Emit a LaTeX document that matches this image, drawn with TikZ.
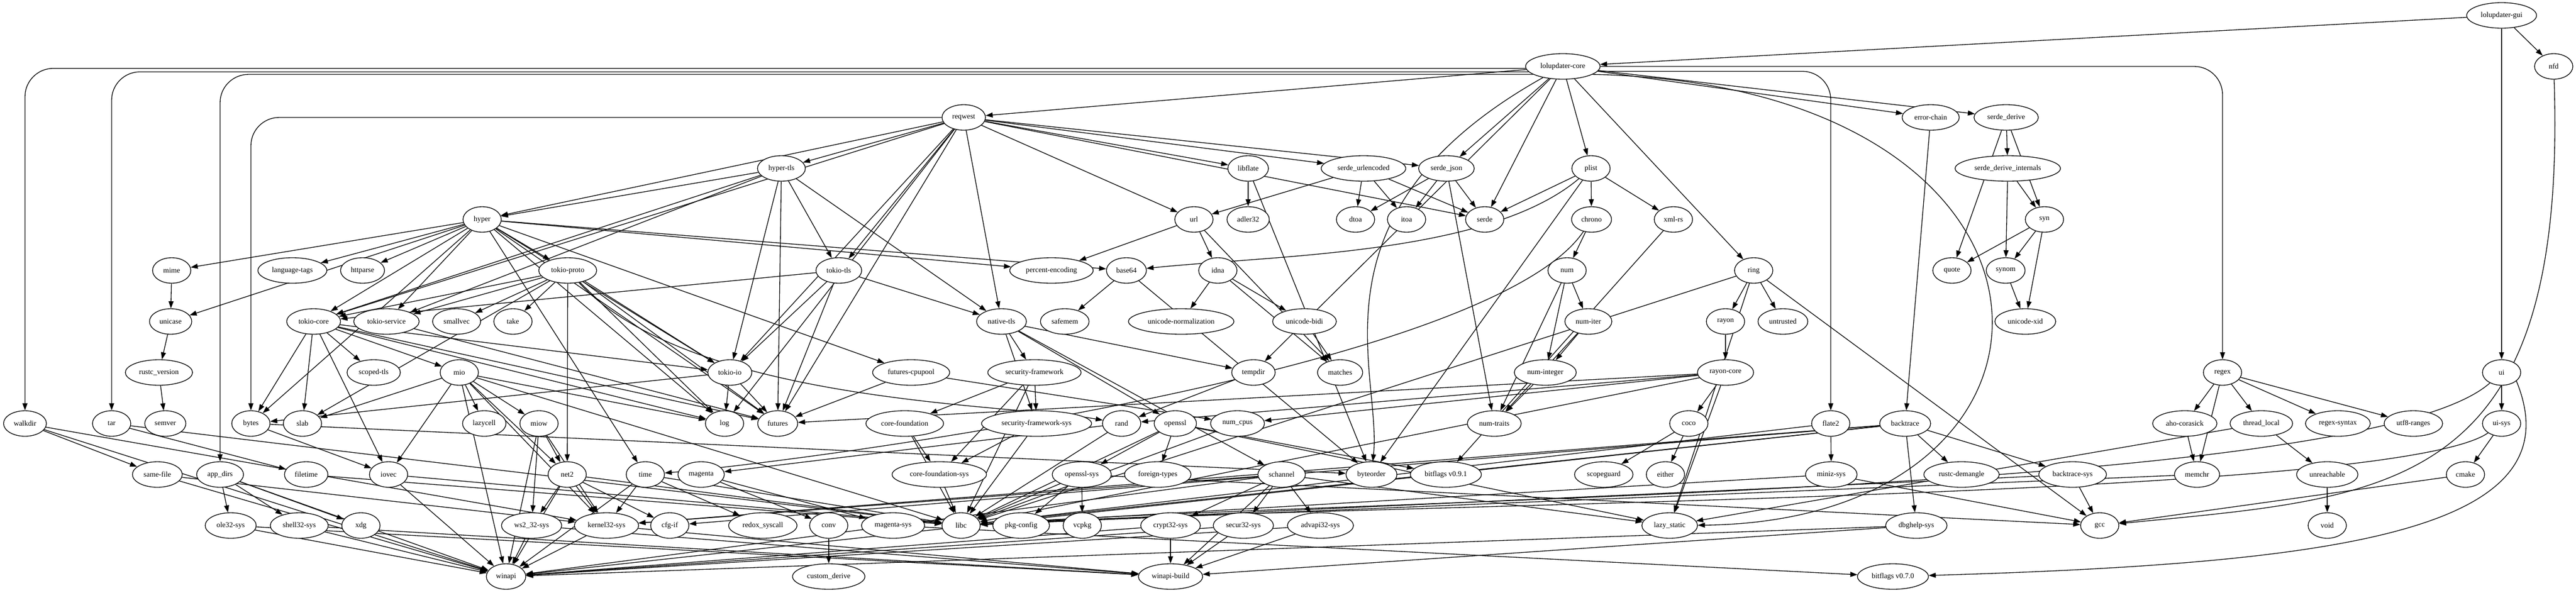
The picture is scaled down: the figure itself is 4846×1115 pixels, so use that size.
\documentclass[tikz,border=0pt]{standalone}
\usepackage{fontspec}
\setmainfont{Liberation Serif}
\usepackage{tikz}
\usetikzlibrary{shapes.geometric, arrows.meta, backgrounds}
\tikzstyle{crate} = [ellipse, draw=black, fill=white, line width=1pt, minimum width=54pt, minimum height=36pt, inner xsep=5.5pt, inner ysep=0pt, font=\fontsize{10.4}{12}\selectfont]
\tikzstyle{dep} = [line width=1pt, -{Triangle[length=10pt,width=7pt]}]
\begin{document}
\begin{tikzpicture}[x=0.75pt, y=-0.75pt]
		\useasboundingbox (0,0) rectangle (4846,1115);
		\node (LolGui) [crate] at (4706,29) {lolupdater-gui};
		\node (LolCore) [crate] at (2940,125) {lolupdater-core};
		\node (Nfd) [crate] at (4804,125) {nfd};
		\node (Reqwest) [crate] at (1813,221) {reqwest};
		\node (ErrorChain) [crate] at (3632,221) {error-chain};
		\node (SerdeDerive) [crate] at (3774,221) {serde\_derive};
		\node (HyperTls) [crate] at (1470,317) {hyper-tls};
		\node (Libflate) [crate] at (2348,317) {libflate};
		\node (SerdeUrl) [crate] at (2565,317) {serde\_urlencoded};
		\node (SerdeJson) [crate] at (2721,317) {serde\_json};
		\node (Plist) [crate] at (2993,317) {plist};
		\node (SerdeInternals) [crate] at (3777,317) {serde\_derive\_internals};
		\node (Hyper) [crate] at (907,413) {hyper};
		\node (Url) [crate] at (2246,413) {url};
		\node (Adler) [crate] at (2348,413) {adler32};
		\node (Dtoa) [crate] at (2550,413) {dtoa};
		\node (Itoa) [crate] at (2646,413) {itoa};
		\node (Serde) [crate] at (2793,413) {serde};
		\node (Chrono) [crate] at (2994,413) {chrono};
		\node (XmlRs) [crate] at (3148,413) {xml-rs};
		\node (Syn) [crate] at (3846,413) {syn};
		\node (Mime) [crate] at (323,509) {mime};
		\node (LangTags) [crate] at (550,509) {language-tags};
		\node (Httparse) [crate] at (682,509) {httparse};
		\node (TokioProto) [crate] at (1068,509) {tokio-proto};
		\node (TokioTls) [crate] at (1578,509) {tokio-tls};
		\node (PercentEnc) [crate] at (1978,509) {percent-encoding};
		\node (Base64) [crate] at (2119,509) {base64};
		\node (Idna) [crate] at (2291,509) {idna};
		\node (Num) [crate] at (2948,509) {num};
		\node (Ring) [crate] at (3299,509) {ring};
		\node (Quote) [crate] at (3672,509) {quote};
		\node (Synom) [crate] at (3773,509) {synom};
		\node (Unicase) [crate] at (321,605) {unicase};
		\node (TokioCore) [crate] at (590,605) {tokio-core};
		\node (TokioService) [crate] at (727,605) {tokio-service};
		\node (Smallvec) [crate] at (859,605) {smallvec};
		\node (Take) [crate] at (965,605) {take};
		\node (NativeTls) [crate] at (1884,605) {native-tls};
		\node (Safemem) [crate] at (2003,605) {safemem};
		\node (UniNorm) [crate] at (2222,605) {unicode-normalization};
		\node (UniBidi) [crate] at (2454,605) {unicode-bidi};
		\node (NumIter) [crate] at (2988,605) {num-iter};
		\node (Rayon) [crate] at (3246,605) {rayon};
		\node (Untrusted) [crate] at (3354,605) {untrusted};
		\node (UniXid) [crate] at (3810,605) {unicode-xid};
		\node (RustcVersion) [crate] at (299,701) {rustc\_version};
		\node (ScopedTls) [crate] at (703,701) {scoped-tls};
		\node (Mio) [crate] at (864,701) {mio};
		\node (TokioIo) [crate] at (1373,701) {tokio-io};
		\node (CpuPool) [crate] at (1714,701) {futures-cpupool};
		\node (SecFw) [crate] at (1946,701) {security-framework};
		\node (Tempdir) [crate] at (2358,701) {tempdir};
		\node (Matches) [crate] at (2521,701) {matches};
		\node (NumInteger) [crate] at (2907,701) {num-integer};
		\node (RayonCore) [crate] at (3246,701) {rayon-core};
		\node (Regex) [crate] at (4181,701) {regex};
		\node (Ui) [crate] at (4706,701) {ui};
		\node (Walkdir) [crate] at (47,797) {walkdir};
		\node (Tar) [crate] at (210,797) {tar};
		\node (Semver) [crate] at (311,797) {semver};
		\node (Bytes) [crate] at (472,797) {bytes};
		\node (Slab) [crate] at (569,797) {slab};
		\node (Lazycell) [crate] at (911,797) {lazycell};
		\node (Miow) [crate] at (1014,797) {miow};
		\node (Log) [crate] at (1363,797) {log};
		\node (Futures) [crate] at (1463,797) {futures};
		\node (CoreFound) [crate] at (1702,797) {core-foundation};
		\node (SecFwSys) [crate] at (1950,797) {security-framework-sys};
		\node (Rand) [crate] at (2110,797) {rand};
		\node (Openssl) [crate] at (2211,797) {openssl};
		\node (NumCpus) [crate] at (2328,797) {num\_cpus};
		\node (NumTraits) [crate] at (2811,797) {num-traits};
		\node (Coco) [crate] at (3177,797) {coco};
		\node (Flate) [crate] at (3444,797) {flate2};
		\node (Backtrace) [crate] at (3584,797) {backtrace};
		\node (AhoCorasick) [crate] at (4110,797) {aho-corasick};
		\node (ThreadLocal) [crate] at (4254,797) {thread\_local};
		\node (RegexSyntax) [crate] at (4398,797) {regex-syntax};
		\node (Utf8Ranges) [crate] at (4540,797) {utf8-ranges};
		\node (UiSys) [crate] at (4706,797) {ui-sys};
		\node (SameFile) [crate] at (296,893) {same-file};
		\node (AppDirs) [crate] at (414,893) {app\_dirs};
		\node (Filetime) [crate] at (576,893) {filetime};
		\node (Iovec) [crate] at (731,893) {iovec};
		\node (Net2) [crate] at (1067,893) {net2};
		\node (Time) [crate] at (1214,893) {time};
		\node (Magenta) [crate] at (1319,893) {magenta};
		\node (CoreFoundSys) [crate] at (1767,893) {core-foundation-sys};
		\node (OpensslSys) [crate] at (2035,893) {openssl-sys};
		\node (ForeignTypes) [crate] at (2178,893) {foreign-types};
		\node (Schannel) [crate] at (2411,893) {schannel};
		\node (Byteorder) [crate] at (2580,893) {byteorder};
		\node (BitflagsNine) [crate] at (2720,893) {bitflags v0.9.1};
		\node (Scopeguard) [crate] at (3017,893) {scopeguard};
		\node (Either) [crate] at (3133,893) {either};
		\node (MinizSys) [crate] at (3445,893) {miniz-sys};
		\node (Demangle) [crate] at (3690,893) {rustc-demangle};
		\node (BacktraceSys) [crate] at (3899,893) {backtrace-sys};
		\node (Memchr) [crate] at (4133,893) {memchr};
		\node (Unreachable) [crate] at (4378,893) {unreachable};
		\node (Cmake) [crate] at (4638,893) {cmake};
		\node (Ole32) [crate] at (434,989) {ole32-sys};
		\node (Shell32) [crate] at (563,989) {shell32-sys};
		\node (Xdg) [crate] at (679,989) {xdg};
		\node (Ws2) [crate] at (1000,989) {ws2\_32-sys};
		\node (Kernel32) [crate] at (1141,989) {kernel32-sys};
		\node (CfgIf) [crate] at (1260,989) {cfg-if};
		\node (Redox) [crate] at (1435,989) {redox\_syscall};
		\node (Conv) [crate] at (1559,989) {conv};
		\node (MagentaSys) [crate] at (1680,989) {magenta-sys};
		\node (Libc) [crate] at (1808,989) {libc};
		\node (PkgConfig) [crate] at (1921,989) {pkg-config};
		\node (Vcpkg) [crate] at (2036,989) {vcpkg};
		\node (Crypt32) [crate] at (2202,989) {crypt32-sys};
		\node (Secur32) [crate] at (2339,989) {secur32-sys};
		\node (Advapi) [crate] at (2484,989) {advapi32-sys};
		\node (LazyStatic) [crate] at (3141,989) {lazy\_static};
		\node (Dbghelp) [crate] at (3605,989) {dbghelp-sys};
		\node (Gcc) [crate] at (3950,989) {gcc};
		\node (Void) [crate] at (4378,989) {void};
		\node (Winapi) [crate] at (952,1085) {winapi};
		\node (CustomDerive) [crate] at (1559,1085) {custom\_derive};
		\node (WinapiBuild) [crate] at (2202,1085) {winapi-build};
		\node (BitflagsSeven) [crate] at (3561,1085) {bitflags v0.7.0};
		
		\begin{scope}[on background layer]
		\draw [dep] (LolGui) -- (LolCore);
		\draw [dep] (LolGui) -- (Nfd);
		\draw [dep] (LolGui) -- (Ui);
		\draw [dep] (Nfd) .. controls (4831,930) and (4500,935) .. (Gcc);
		\draw [dep] (Ui) -- (UiSys);
		\draw [dep] (Ui.-30) .. controls (4850,1000) and (4400,1060) .. (BitflagsSeven);
		\draw [dep] (Ui) .. controls (4450,930) and (2600,935) .. (Libc);
		\draw [dep] (UiSys) -- (Cmake);
		\draw [dep] (UiSys) .. controls (4500,940) and (2600,945) .. (Libc);
		\draw [dep] (Cmake) -- (Gcc);
		\draw [dep, rounded corners=40pt] (LolCore.183) -| (Walkdir);
		\draw [dep, rounded corners=40pt] (LolCore.189) -| (Tar);
		\draw [dep, rounded corners=40pt] (LolCore.195) -| (AppDirs);
		\draw [dep] (LolCore) -- (Reqwest);
		\draw [dep] (LolCore) -- (SerdeJson);
		\draw [dep] (LolCore) -- (Serde);
		\draw [dep] (LolCore) -- (Plist);
		\draw [dep] (LolCore) -- (Ring);
		\draw [dep] (LolCore) -- (ErrorChain);
		\draw [dep] (LolCore) -- (SerdeDerive);
		\draw [dep, rounded corners=40pt] (LolCore.-8) -| (Flate);
		\draw [dep] (LolCore.-15) .. controls (3960,160) and (3960,980) .. (LazyStatic);
		\draw [dep, rounded corners=40pt] (LolCore.east) -| (Regex);
		\draw [dep] (LolCore) -- (Tempdir);
		\draw [dep] (LolCore) .. controls (2450,400) and (2600,700) .. (Byteorder);
		\draw [dep, rounded corners=40pt] (Reqwest.west) -| (Bytes);
		\draw [dep] (Reqwest) -- (Futures);
		\draw [dep] (Reqwest) -- (Hyper);
		\draw [dep] (Reqwest) -- (HyperTls);
		\draw [dep] (Reqwest) -- (Libflate);
		\draw [dep] (Reqwest) -- (Log);
		\draw [dep] (Reqwest) -- (NativeTls);
		\draw [dep] (Reqwest) -- (Serde);
		\draw [dep] (Reqwest) -- (SerdeJson);
		\draw [dep] (Reqwest) -- (SerdeUrl);
		\draw [dep] (Reqwest) -- (TokioCore);
		\draw [dep] (Reqwest) -- (TokioIo);
		\draw [dep] (Reqwest) -- (TokioTls);
		\draw [dep] (Reqwest) -- (Url);
		\draw [dep] (HyperTls) -- (Futures);
		\draw [dep] (HyperTls) -- (Hyper);
		\draw [dep] (HyperTls) -- (NativeTls);
		\draw [dep] (HyperTls) -- (TokioCore);
		\draw [dep] (HyperTls) -- (TokioIo);
		\draw [dep] (HyperTls) -- (TokioService);
		\draw [dep] (HyperTls) -- (TokioTls);
		\draw [dep] (TokioTls) -- (Futures);
		\draw [dep] (TokioTls) -- (NativeTls);
		\draw [dep] (TokioTls) -- (TokioCore);
		\draw [dep] (TokioTls) -- (TokioIo);
		\draw [dep] (Hyper) -- (Base64);
		\draw [dep] (Hyper) -- (Bytes);
		\draw [dep] (Hyper) -- (Futures);
		\draw [dep] (Hyper) -- (CpuPool);
		\draw [dep] (Hyper) -- (Httparse);
		\draw [dep] (Hyper) -- (LangTags);
		\draw [dep] (Hyper) -- (Log);
		\draw [dep] (Hyper) -- (Mime);
		\draw [dep] (Hyper) -- (PercentEnc);
		\draw [dep] (Hyper) -- (Time);
		\draw [dep] (Hyper) -- (TokioCore);
		\draw [dep] (Hyper) -- (TokioIo);
		\draw [dep] (Hyper) -- (TokioProto);
		\draw [dep] (Hyper) -- (TokioService);
		\draw [dep] (Hyper) -- (Unicase);
		\draw [dep] (TokioProto) -- (Futures);
		\draw [dep] (TokioProto) -- (Log);
		\draw [dep] (TokioProto) -- (Net2);
		\draw [dep] (TokioProto) .. controls (1300,760) and (1900,760) .. (Rand);
		\draw [dep] (TokioProto) -- (Slab);
		\draw [dep] (TokioProto) -- (Smallvec);
		\draw [dep] (TokioProto) -- (Take);
		\draw [dep] (TokioProto) -- (TokioCore);
		\draw [dep] (TokioProto) -- (TokioIo);
		\draw [dep] (TokioProto) -- (TokioService);
		\draw [dep] (TokioCore) -- (Bytes);
		\draw [dep] (TokioCore) -- (Futures);
		\draw [dep] (TokioCore) -- (Iovec);
		\draw [dep] (TokioCore) -- (Log);
		\draw [dep] (TokioCore) -- (Mio);
		\draw [dep] (TokioCore) -- (ScopedTls);
		\draw [dep] (TokioCore) -- (Slab);
		\draw [dep] (TokioCore) -- (TokioIo);
		\draw [dep] (TokioService) -- (Futures);
		\draw [dep] (TokioIo) -- (Bytes);
		\draw [dep] (TokioIo) -- (Futures);
		\draw [dep] (TokioIo) -- (Log);
		\draw [dep] (CpuPool) -- (Futures);
		\draw [dep] (CpuPool) -- (NumCpus);
		\draw [dep] (Mio) -- (Iovec);
		\draw [dep] (Mio) -- (Lazycell);
		\draw [dep] (Mio) -- (Libc);
		\draw [dep] (Mio) -- (Log);
		\draw [dep] (Mio) -- (Miow);
		\draw [dep] (Mio) -- (Net2);
		\draw [dep] (Mio) -- (Slab);
		\draw [dep] (Mio) -- (Kernel32);
		\draw [dep] (Mio) -- (Winapi);
		\draw [dep] (Miow) -- (Kernel32);
		\draw [dep] (Miow) -- (Net2);
		\draw [dep] (Miow) -- (Winapi);
		\draw [dep] (Miow) -- (Ws2);
		\draw [dep] (Net2) -- (CfgIf);
		\draw [dep] (Net2) -- (Libc);
		\draw [dep] (Net2) -- (Winapi);
		\draw [dep] (Net2) -- (Ws2);
		\draw [dep] (Net2) -- (Kernel32);
		\draw [dep] (Ws2) -- (Winapi);
		\draw [dep] (Ws2) -- (WinapiBuild);
		\draw [dep] (Kernel32) -- (Winapi);
		\draw [dep] (Kernel32) -- (WinapiBuild);
		\draw [dep] (Iovec) -- (Libc);
		\draw [dep] (Iovec) -- (Winapi);
		\draw [dep] (Bytes) -- (Byteorder);
		\draw [dep] (Bytes) -- (Iovec);
		\draw [dep] (Time) -- (Kernel32);
		\draw [dep] (Time) -- (Libc);
		\draw [dep] (Time) -- (Redox);
		\draw [dep] (Time) -- (Winapi);
		\draw [dep] (Magenta) -- (Conv);
		\draw [dep] (Magenta) -- (MagentaSys);
		\draw [dep] (MagentaSys) -- (BitflagsSeven);
		\draw [dep] (Conv) -- (CustomDerive);
		\draw [dep] (Rand) -- (Libc);
		\draw [dep] (Rand) -- (Magenta);
		\draw [dep] (NumCpus) -- (Libc);
		\draw [dep] (Tempdir) -- (Rand);
		\draw [dep] (NativeTls) -- (Openssl);
		\draw [dep] (NativeTls) -- (Schannel);
		\draw [dep] (NativeTls) -- (SecFw);
		\draw [dep] (NativeTls) -- (SecFwSys);
		\draw [dep] (NativeTls) -- (Tempdir);
		\draw [dep] (SecFw) -- (CoreFound);
		\draw [dep] (SecFw) -- (CoreFoundSys);
		\draw [dep] (SecFw) -- (Libc);
		\draw [dep] (SecFw) -- (SecFwSys);
		\draw [dep] (SecFwSys) -- (CoreFoundSys);
		\draw [dep] (SecFwSys) -- (Libc);
		\draw [dep] (CoreFound) -- (CoreFoundSys);
		\draw [dep] (CoreFound) -- (Libc);
		\draw [dep] (CoreFoundSys) -- (Libc);
		\draw [dep] (Openssl) -- (BitflagsNine);
		\draw [dep] (Openssl) -- (ForeignTypes);
		\draw [dep] (Openssl) -- (LazyStatic);
		\draw [dep] (Openssl) -- (Libc);
		\draw [dep] (Openssl) -- (OpensslSys);
		\draw [dep] (OpensslSys) -- (Libc);
		\draw [dep] (OpensslSys) -- (PkgConfig);
		\draw [dep] (OpensslSys) -- (Vcpkg);
		\draw [dep] (OpensslSys) -- (Gcc);
		\draw [dep] (Schannel) -- (Advapi);
		\draw [dep] (Schannel) -- (Crypt32);
		\draw [dep] (Schannel) -- (Kernel32);
		\draw [dep] (Schannel) -- (LazyStatic);
		\draw [dep] (Schannel) -- (Secur32);
		\draw [dep] (Schannel) -- (Winapi);
		\draw [dep] (Schannel) -- (WinapiBuild);
		\draw [dep] (Crypt32) -- (Winapi);
		\draw [dep] (Crypt32) -- (WinapiBuild);
		\draw [dep] (Secur32) -- (Winapi);
		\draw [dep] (Secur32) -- (WinapiBuild);
		\draw [dep] (Advapi) -- (Winapi);
		\draw [dep] (Advapi) -- (WinapiBuild);
		\draw [dep] (Url) -- (Idna);
		\draw [dep] (Url) -- (Matches);
		\draw [dep] (Url) -- (PercentEnc);
		\draw [dep] (Idna) -- (Matches);
		\draw [dep] (Idna) -- (UniBidi);
		\draw [dep] (Idna) -- (UniNorm);
		\draw [dep] (UniBidi) -- (Matches);
		\draw [dep] (Base64) -- (Byteorder);
		\draw [dep] (Base64) -- (Safemem);
		\draw [dep] (Libflate) -- (Adler);
		\draw [dep] (Libflate) -- (Byteorder);
		\draw [dep] (SerdeUrl) -- (Dtoa);
		\draw [dep] (SerdeUrl) -- (Itoa);
		\draw [dep] (SerdeUrl) -- (Serde);
		\draw [dep] (SerdeUrl) -- (Url);
		\draw [dep] (SerdeJson) -- (Dtoa);
		\draw [dep] (SerdeJson) -- (Itoa);
		\draw [dep] (SerdeJson) -- (NumTraits);
		\draw [dep] (SerdeJson) -- (Serde);
		\draw [dep] (Plist) -- (Serde);
		\draw [dep] (Plist) -- (Chrono);
		\draw [dep] (Plist) -- (XmlRs);
		\draw [dep] (Plist) .. controls (2800,480) and (2400,480) .. (Base64);
		\draw [dep] (Plist) -- (Byteorder);
		\draw [dep] (Chrono) -- (Num);
		\draw [dep] (Chrono) .. controls (2800,700) and (1500,870) .. (Time);
		\draw [dep] (Num) -- (NumInteger);
		\draw [dep] (Num) -- (NumIter);
		\draw [dep] (Num) -- (NumTraits);
		\draw [dep] (NumIter) -- (NumInteger);
		\draw [dep] (NumIter) -- (NumTraits);
		\draw [dep] (NumInteger) -- (NumTraits);
		\draw [dep] (XmlRs) -- (BitflagsNine);
		\draw [dep] (Ring) -- (Gcc);
		\draw [dep] (Ring) -- (LazyStatic);
		\draw [dep] (Ring) -- (Libc);
		\draw [dep] (Ring) -- (Rayon);
		\draw [dep] (Ring) -- (Untrusted);
		\draw [dep] (Rayon) -- (RayonCore);
		\draw [dep] (RayonCore) -- (Coco);
		\draw [dep] (RayonCore) -- (Futures);
		\draw [dep] (RayonCore) -- (LazyStatic);
		\draw [dep] (RayonCore) -- (Libc);
		\draw [dep] (RayonCore) -- (NumCpus);
		\draw [dep] (RayonCore) -- (Rand);
		\draw [dep] (Coco) -- (Either);
		\draw [dep] (Coco) -- (Scopeguard);
		\draw [dep] (Flate) -- (Libc);
		\draw [dep] (Flate) -- (MinizSys);
		\draw [dep] (MinizSys) -- (Gcc);
		\draw [dep] (MinizSys) -- (Libc);
		\draw [dep] (Backtrace) -- (BacktraceSys);
		\draw [dep] (Backtrace) -- (CfgIf);
		\draw [dep] (Backtrace) -- (Dbghelp);
		\draw [dep] (Backtrace) -- (Kernel32);
		\draw [dep] (Backtrace) -- (Libc);
		\draw [dep] (Backtrace) -- (Demangle);
		\draw [dep] (Backtrace) -- (Winapi);
		\draw [dep] (BacktraceSys) -- (Gcc);
		\draw [dep] (BacktraceSys) -- (Libc);
		\draw [dep] (Dbghelp) -- (Winapi);
		\draw [dep] (Dbghelp) -- (WinapiBuild);
		\draw [dep] (ErrorChain) -- (Backtrace);
		\draw [dep] (SerdeDerive) -- (Quote);
		\draw [dep] (SerdeDerive) -- (SerdeInternals);
		\draw [dep] (SerdeDerive) -- (Syn);
		\draw [dep] (SerdeInternals) -- (Syn);
		\draw [dep] (SerdeInternals) -- (Synom);
		\draw [dep] (Syn) -- (Quote);
		\draw [dep] (Syn) -- (Synom);
		\draw [dep] (Syn) -- (UniXid);
		\draw [dep] (Synom) -- (UniXid);
		\draw [dep] (AppDirs) -- (Ole32);
		\draw [dep] (AppDirs) -- (Shell32);
		\draw [dep] (AppDirs) -- (Winapi);
		\draw [dep] (AppDirs) -- (Xdg);
		\draw [dep] (Ole32) -- (Winapi);
		\draw [dep] (Ole32) -- (WinapiBuild);
		\draw [dep] (Shell32) -- (Winapi);
		\draw [dep] (Shell32) -- (WinapiBuild);
		\draw [dep] (Walkdir) -- (Kernel32);
		\draw [dep] (Walkdir) -- (SameFile);
		\draw [dep] (Walkdir) -- (Winapi);
		\draw [dep] (SameFile) -- (Kernel32);
		\draw [dep] (SameFile) -- (Winapi);
		\draw [dep] (Tar) -- (Filetime);
		\draw [dep] (Tar) -- (Libc);
		\draw [dep] (Filetime) -- (Libc);
		\draw [dep] (Mime) -- (Unicase);
		\draw [dep] (Unicase) -- (RustcVersion);
		\draw [dep] (RustcVersion) -- (Semver);
		\draw [dep] (Regex) -- (AhoCorasick);
		\draw [dep] (Regex) -- (Memchr);
		\draw [dep] (Regex) -- (ThreadLocal);
		\draw [dep] (Regex) -- (RegexSyntax);
		\draw [dep] (Regex) -- (Utf8Ranges);
		\draw [dep] (AhoCorasick) -- (Memchr);
		\draw [dep] (Memchr) -- (Libc);
		\draw [dep] (ThreadLocal) -- (LazyStatic);
		\draw [dep] (ThreadLocal) -- (Unreachable);
		\draw [dep] (Unreachable) -- (Void);
		\end{scope}
\end{tikzpicture}
\end{document}
